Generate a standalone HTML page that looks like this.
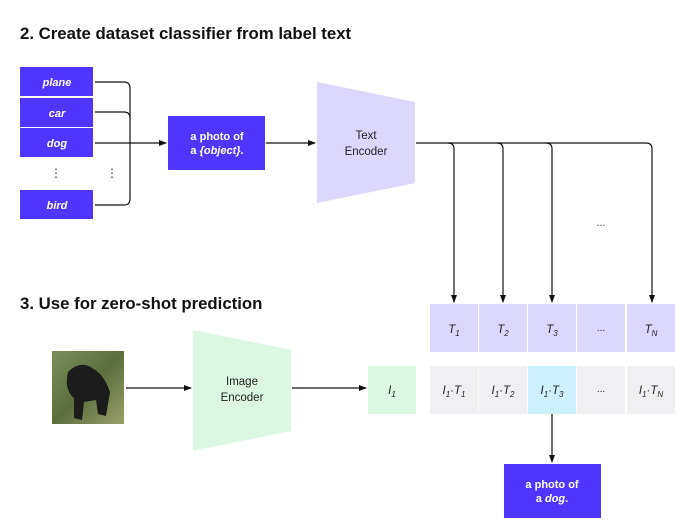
<!DOCTYPE html>
<html><head><meta charset="utf-8"><style>
body{margin:0;background:#fff;}
svg text{font-family:"Liberation Sans",sans-serif;}
</style></head><body>
<svg width="686" height="527" viewBox="0 0 686 527" xmlns="http://www.w3.org/2000/svg">
<defs><marker id="a" markerWidth="8" markerHeight="8" refX="7" refY="4" orient="auto" markerUnits="userSpaceOnUse"><path d="M0,1 L8,4 L0,7 Z" fill="#111"/></marker>
<linearGradient id="g" x1="0" y1="0" x2="1" y2="1"><stop offset="0" stop-color="#7a8f5a"/><stop offset="0.5" stop-color="#5b6e3c"/><stop offset="1" stop-color="#9aa06a"/></linearGradient></defs>
<text x="20" y="39" font-size="16.8" font-weight="bold" fill="#111">2. Create dataset classifier from label text</text>
<text x="20" y="309" font-size="16.8" font-weight="bold" fill="#111">3. Use for zero-shot prediction</text>
<g fill="#5035ff">
<rect x="20" y="67" width="73" height="29"/><rect x="20" y="98" width="73" height="29"/><rect x="20" y="128" width="73" height="29"/><rect x="20" y="190" width="73" height="29"/>
<rect x="168" y="116" width="97" height="54"/><rect x="504" y="464" width="97" height="54"/></g>
<g fill="#fff" font-size="11" font-weight="bold" font-style="italic" text-anchor="middle">
<text x="57" y="86">plane</text><text x="57" y="117">car</text><text x="57" y="147">dog</text><text x="57" y="209">bird</text></g>
<g fill="#fff" font-size="11" font-weight="bold" text-anchor="middle">
<text x="217" y="140">a photo of</text><text x="217" y="154">a <tspan font-style="italic">{object}</tspan>.</text>
<text x="552" y="488">a photo of</text><text x="552" y="502">a <tspan font-style="italic">dog</tspan>.</text></g>
<g fill="#333" font-size="12" text-anchor="middle"><text x="56" y="177">⋮</text><text x="112" y="177">⋮</text></g>
<g stroke="#111" stroke-width="1.2" fill="none">
<path d="M95,82 H124 Q130,82 130,88 V199 Q130,205 124,205 H95"/>
<path d="M95,112 H124 Q130,112 130,118"/>
<path d="M95,143 H166" marker-end="url(#a)"/>
<path d="M266,143 H315" marker-end="url(#a)"/>
<path d="M416,143 H646 Q652,143 652,149 V302" marker-end="url(#a)"/>
<path d="M448,143 Q454,143 454,149 V302" marker-end="url(#a)"/>
<path d="M497,143 Q503,143 503,149 V302" marker-end="url(#a)"/>
<path d="M546,143 Q552,143 552,149 V302" marker-end="url(#a)"/>
<path d="M126,388 H191" marker-end="url(#a)"/>
<path d="M292,388 H366" marker-end="url(#a)"/>
<path d="M552,414 V462" marker-end="url(#a)"/>
</g>
<polygon points="317,82 415,102 415,183 317,203" fill="#dcd7ff"/>
<text x="366" y="139" font-size="11.5" fill="#222" text-anchor="middle">Text</text>
<text x="366" y="155" font-size="11.5" fill="#222" text-anchor="middle">Encoder</text>
<polygon points="193,330 291,350 291,431 193,451" fill="#dcf7e2"/>
<text x="242" y="385" font-size="11.5" fill="#222" text-anchor="middle">Image</text>
<text x="242" y="401" font-size="11.5" fill="#222" text-anchor="middle">Encoder</text>
<text x="601" y="226" font-size="11" fill="#333" text-anchor="middle">...</text>
<g fill="#dcd7ff"><rect x="430" y="304" width="48" height="48"/><rect x="479" y="304" width="48" height="48"/><rect x="528" y="304" width="48" height="48"/><rect x="577" y="304" width="48" height="48"/><rect x="627" y="304" width="48" height="48"/></g>
<g fill="#f0f0f2"><rect x="430" y="366" width="48" height="48"/><rect x="479" y="366" width="48" height="48"/><rect x="577" y="366" width="48" height="48"/><rect x="627" y="366" width="48" height="48"/></g>
<rect x="528" y="366" width="48" height="48" fill="#cdf0fd"/>
<rect x="368" y="366" width="48" height="48" fill="#dcf7e2"/>
<g fill="#222" font-size="11.5" font-style="italic" text-anchor="middle">
<text x="454" y="333">T<tspan font-size="8" dy="3">1</tspan></text>
<text x="503" y="333">T<tspan font-size="8" dy="3">2</tspan></text>
<text x="552" y="333">T<tspan font-size="8" dy="3">3</tspan></text>
<text x="601" y="331" font-style="normal" font-size="10">...</text>
<text x="651" y="333">T<tspan font-size="8" dy="3">N</tspan></text>
<text x="392" y="394">I<tspan font-size="8" dy="3">1</tspan></text>
<text x="454" y="394">I<tspan font-size="8" dy="3">1</tspan><tspan dy="-3">·T</tspan><tspan font-size="8" dy="3">1</tspan></text>
<text x="503" y="394">I<tspan font-size="8" dy="3">1</tspan><tspan dy="-3">·T</tspan><tspan font-size="8" dy="3">2</tspan></text>
<text x="552" y="394">I<tspan font-size="8" dy="3">1</tspan><tspan dy="-3">·T</tspan><tspan font-size="8" dy="3">3</tspan></text>
<text x="601" y="392" font-style="normal" font-size="10">...</text>
<text x="651" y="394">I<tspan font-size="8" dy="3">1</tspan><tspan dy="-3">·T</tspan><tspan font-size="8" dy="3">N</tspan></text>
</g>
<rect x="52" y="351" width="72" height="73" fill="url(#g)"/>
<path d="M68,372 Q80,360 92,368 Q104,374 110,392 L106,416 L98,414 L96,400 L84,402 L82,420 L74,418 L74,398 Q64,390 68,372 Z" fill="#1c1c1c"/>
</svg>
</body></html>
